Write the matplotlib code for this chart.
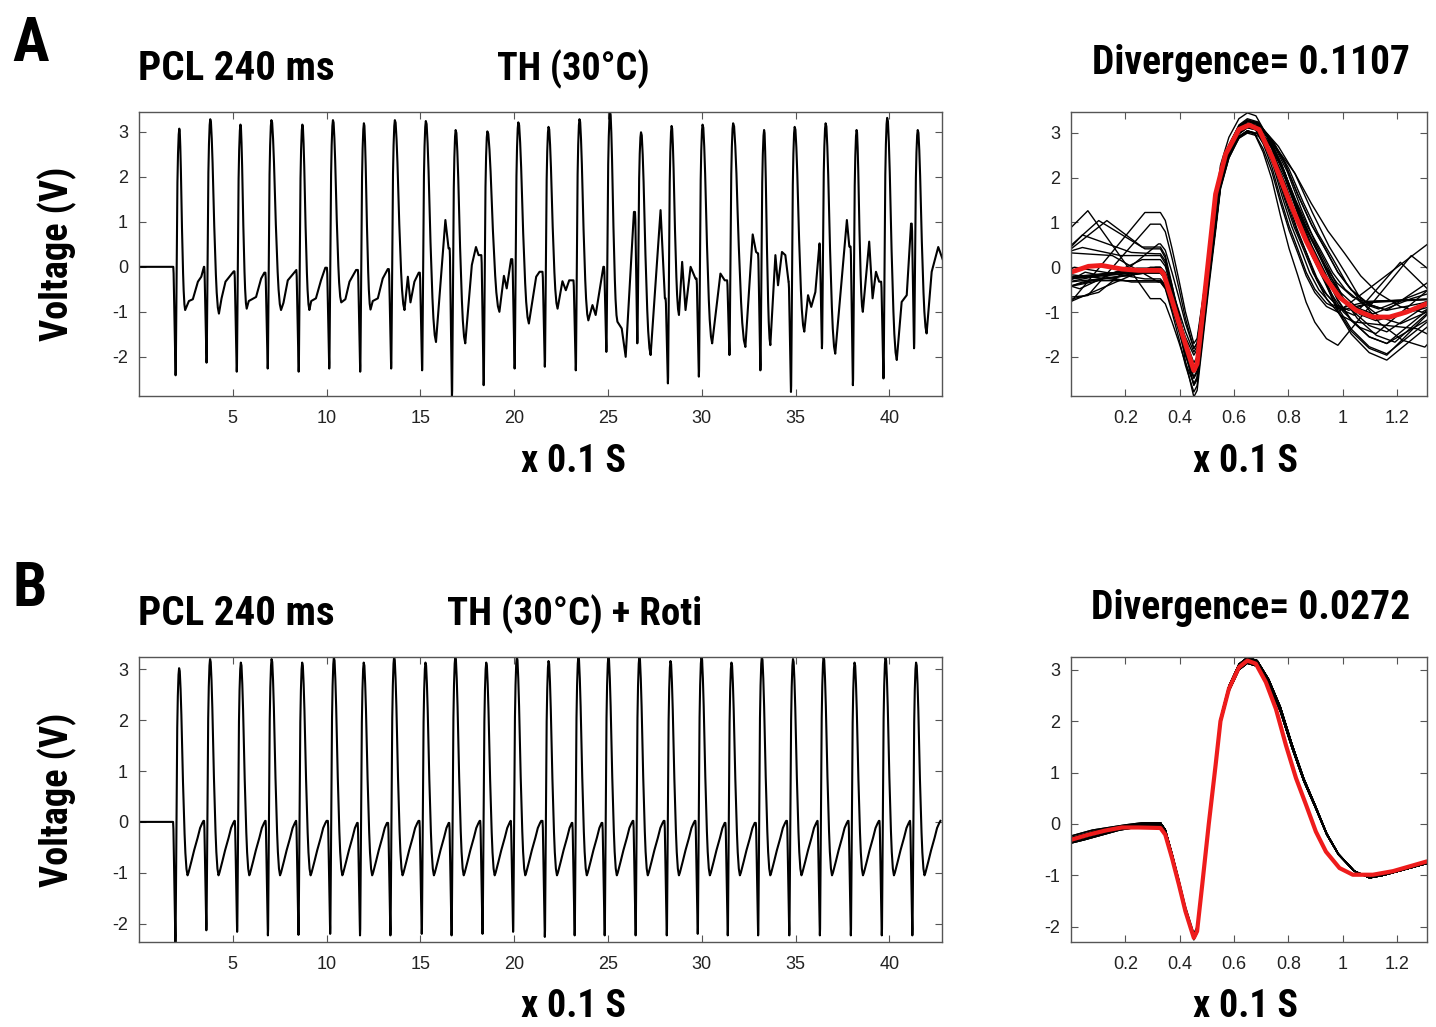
"""
Two-row figure: long epicardial voltage record (left) and the beat-by-beat
overlay with the mean trace in red (right), for TH and TH + Roti.
Writes out.png.
"""

import os

import matplotlib

matplotlib.use("Agg")
import matplotlib.pyplot as plt
import numpy as np
from matplotlib import font_manager
from matplotlib.font_manager import FontProperties

W, H = 1436, 1027

# ---------------- panel A: long record (x 0.1 s, volts) ----------------
SPIKE_T_A = [1.95, 3.60, 5.21, 6.86, 8.51, 10.14, 11.79, 13.44, 15.09, 16.68,
             18.37, 20.02, 21.63, 23.28, 24.91, 26.56, 28.19, 29.84, 31.47,
             33.12, 34.75, 36.40, 38.05, 39.68, 41.31]
SPIKE_V_A = [-2.41, -2.13, -2.33, -2.26, -2.33, -2.26, -2.33, -2.26, -2.30,
             -2.89, -2.63, -2.26, -2.22, -2.30, -1.89, -1.70, -2.59, -2.44,
             -1.96, -2.30, -2.78, -1.81, -2.63, -2.48, -1.81]
PEAK_V_A = [3.07, 3.28, 3.16, 3.26, 3.16, 3.26, 3.19, 3.26, 3.24, 3.04, 3.01,
            3.21, 3.11, 3.28, 3.44, 2.99, 3.13, 3.16, 3.19, 3.04, 3.11, 3.19,
            3.04, 3.31, 3.04]
# points after each peak (first one = trough), absolute time
RECOVERY_A = [
    [(2.46, -0.96), (2.66, -0.76), (2.87, -0.72), (3.14, -0.33), (3.32, -0.22), (3.46, 0.0)],
    [(4.26, -1.04), (4.40, -0.70), (4.61, -0.33), (4.82, -0.22), (5.05, -0.10)],
    [(5.74, -0.93), (5.85, -0.76), (6.24, -0.67), (6.51, -0.26), (6.68, -0.13)],
    [(7.57, -0.96), (7.70, -0.80), (7.93, -0.30), (8.23, -0.15), (8.38, -0.07)],
    [(9.08, -0.96), (9.18, -0.76), (9.43, -0.70), (9.70, -0.30), (9.93, -0.02)],
    [(10.78, -0.79), (11.00, -0.72), (11.22, -0.33), (11.57, -0.07)],
    [(12.34, -0.95), (12.46, -0.76), (12.73, -0.70), (12.99, -0.26), (13.26, -0.05)],
    [(14.15, -0.96), (14.33, -0.22), (14.47, -0.79), (14.68, -0.33), (14.91, -0.13)],
    [(15.83, -1.67), (16.33, 1.04), (16.50, 0.41)],
    [(17.39, -1.70), (17.74, 0.04), (17.96, 0.44), (18.10, 0.26)],
    [(19.21, -1.00), (19.45, -0.20), (19.60, -0.48), (19.83, 0.17)],
    [(20.78, -1.26), (21.17, -0.22), (21.35, -0.11), (21.51, 0.50)],
    [(22.31, -0.93), (22.57, -0.32), (22.75, -0.52), (22.93, -0.30), (23.14, -0.30)],
    [(23.95, -1.19), (24.17, -0.85), (24.34, -1.07), (24.75, 0.0)],
    [(25.50, -1.22), (25.73, -1.37), (25.94, -2.00), (26.38, 1.22)],
    [(27.27, -1.96), (27.80, 1.26), (28.03, -0.70)],
    [(28.78, -1.07), (28.95, 0.11), (29.13, -0.96), (29.40, 0.0), (29.66, -0.26)],
    [(30.55, -1.70), (30.99, -0.15), (31.22, -0.30), (31.35, 0.15)],
    [(32.32, -1.78), (32.71, 0.72), (32.89, 0.33), (32.98, 0.30)],
    [(33.65, -1.74), (33.92, 0.26), (34.06, -0.41), (34.27, 0.33), (34.45, 0.26), (34.62, -0.33)],
    [(35.46, -1.44), (35.66, -0.63), (35.83, -0.89), (36.05, -0.56), (36.27, 0.52)],
    [(37.11, -1.93), (37.73, 1.04), (37.86, 0.45)],
    [(38.58, -1.00), (38.92, 0.56), (39.10, -0.70), (39.28, -0.11), (39.45, -0.33)],
    [(40.39, -2.07), (40.65, -0.78), (40.92, -0.63), (41.15, 0.96)],
    [(41.98, -1.48), (42.25, -0.11), (42.60, 0.44), (42.85, 0.15)],
]

# ---------------- panel B: long record ----------------
SPIKE_T_B = [1.94, 3.59, 5.23, 6.87, 8.50, 10.19, 11.78, 13.40, 15.07, 16.66,
             18.31, 19.94, 21.63, 23.22, 24.82, 26.47, 28.13, 29.78, 31.38,
             33.00, 34.66, 36.29, 37.94, 39.59, 41.22]
SPIKE_V_B = [-2.36, -2.13, -2.16, -2.23, -2.22, -2.20, -2.23, -2.23, -2.20,
             -2.23, -2.20, -2.16, -2.26, -2.23, -2.23, -2.23, -2.23, -2.20,
             -2.23, -2.23, -2.23, -2.23, -2.23, -2.23, -2.23]
PEAK_V_B = [3.02, 3.20, 3.13, 3.20, 3.13, 3.23, 3.13, 3.24, 3.13, 3.24, 3.13,
            3.24, 3.16, 3.24, 3.24, 3.24, 3.16, 3.24, 3.13, 3.24, 3.20, 3.24,
            3.13, 3.23, 3.13]
# recovery after each peak (time after peak, volts) - same for every beat
REC_B_DT = [0.45, 0.50, 0.57, 0.66, 0.80, 0.99, 1.12, 1.24, 1.30]
REC_B_V = [-1.05, -1.00, -0.90, -0.77, -0.56, -0.31, -0.12, -0.02, 0.02]

# spike shape (time offset, fraction of the swing)
DROP_DT = [-0.123, -0.105, -0.080, -0.055, -0.031, -0.012, 0.0]
DROP_F = [0.0, 0.061, 0.276, 0.514, 0.757, 0.907, 1.0]
UP_DT = [0.0, 0.012, 0.031, 0.055, 0.080, 0.098, 0.129, 0.166, 0.197]
UP_F = [0.0, 0.024, 0.193, 0.411, 0.622, 0.781, 0.898, 0.976, 1.0]
DECAY_FT = [0.0, 0.08, 0.175, 0.27, 0.366, 0.461, 0.557, 0.649, 0.745, 0.874, 1.0]
DECAY_FV = [0.0, 0.014, 0.10, 0.225, 0.396, 0.549, 0.674, 0.799, 0.892, 0.969, 1.0]

# mean traces (red), window time in x 0.1 s
RED_A_T = [0.0, 0.064, 0.113, 0.187, 0.249, 0.329, 0.341, 0.372, 0.409, 0.44,
           0.452, 0.464, 0.495, 0.532, 0.569, 0.618, 0.655, 0.692, 0.741,
           0.803, 0.865, 0.926, 0.988, 1.049, 1.111, 1.172, 1.234, 1.31]
RED_A_V = [-0.11, 0.02, 0.04, -0.04, -0.07, -0.07, -0.15, -0.74, -1.48, -2.07,
           -2.30, -2.15, -0.44, 1.63, 2.52, 3.07, 3.17, 3.07, 2.44, 1.48,
           0.59, -0.15, -0.67, -0.96, -1.11, -1.11, -1.00, -0.81]
RED_B_T = [0.0, 0.064, 0.126, 0.187, 0.249, 0.329, 0.347, 0.372, 0.397, 0.421,
           0.44, 0.452, 0.464, 0.483, 0.507, 0.532, 0.55, 0.581, 0.618, 0.649,
           0.68, 0.717, 0.754, 0.791, 0.828, 0.865, 0.901, 0.938, 0.988,
           1.037, 1.111, 1.185, 1.31]
RED_B_V = [-0.31, -0.21, -0.13, -0.07, -0.07, -0.08, -0.21, -0.67, -1.18,
           -1.70, -2.02, -2.22, -2.09, -1.18, 0.0, 1.14, 2.0, 2.63, 3.05, 3.18,
           3.12, 2.76, 2.24, 1.53, 0.89, 0.37, -0.15, -0.54, -0.86, -0.99,
           -0.99, -0.92, -0.73]

DIVERGENCE = ["0.1107", "0.0272"]
CONDITIONS = ["TH (30°C)", "TH (30°C) + Roti"]
PANELS = ["A", "B"]

SPIKE_IN_WINDOW = 0.452  # where the spike sits in the overlay window
TICK_FONT = ["Liberation Sans", "DejaVu Sans"]


def pick_title_font():
    """Bold narrow sans if one is installed, else plain bold sans."""
    entries = font_manager.fontManager.ttflist

    def is_bold(f):
        w = f.weight
        return (isinstance(w, int) and w >= 600) or str(w).lower() in ("bold", "heavy", "black", "semibold", "demibold")

    for name in ["Liberation Sans Narrow", "Arial Narrow", "Roboto Condensed",
                 "Open Sans Condensed", "Noto Sans", "Open Sans", "DejaVu Sans"]:
        for f in entries:
            base = os.path.basename(f.fname).lower()
            narrow = "narrow" in base or "condensed" in base or "condensed" in str(f.stretch)
            if f.name.startswith(name) and narrow and is_bold(f) and "semi" not in base \
                    and "extra" not in base and "italic" not in base and "oblique" not in base:
                return FontProperties(fname=f.fname)
    return FontProperties(family="Liberation Sans", weight="bold")


TITLE_FP = pick_title_font()


def build_trace(spike_t, spike_v, peak_v, recovery):
    xs, ys = [0.0], [0.0]
    prev_v = 0.0
    n = len(spike_t)
    for k in range(n):
        t0 = spike_t[k]
        for dt, f in zip(DROP_DT, DROP_F):
            xs.append(t0 + dt)
            ys.append(prev_v + (spike_v[k] - prev_v) * f)
        for dt, f in zip(UP_DT[1:], UP_F[1:]):
            xs.append(t0 + dt)
            ys.append(spike_v[k] + (peak_v[k] - spike_v[k]) * f)
        tp = t0 + UP_DT[-1]
        limit = spike_t[k + 1] + DROP_DT[0] - 0.005 if k + 1 < n else 1e9
        rec = [(x, v) for x, v in recovery[k] if x < limit]
        tt, vt = rec[0]
        for ft, fv in zip(DECAY_FT[1:-1], DECAY_FV[1:-1]):
            xs.append(tp + (tt - tp) * ft)
            ys.append(peak_v[k] + (vt - peak_v[k]) * fv)
        for x, v in rec:
            xs.append(x)
            ys.append(v)
        prev_v = rec[-1][1]
    return np.array(xs), np.array(ys)


def style_axes(ax, xticks, yticks, xlim, ylim):
    ax.set_xlim(*xlim)
    ax.set_ylim(*ylim)
    ax.set_xticks(xticks)
    ax.set_yticks(yticks)
    ax.set_xticklabels([("%g" % v) for v in xticks], family=TICK_FONT)
    ax.set_yticklabels([("%g" % v) for v in yticks], family=TICK_FONT)
    ax.tick_params(direction="in", length=5, width=0.8, top=True, right=True,
                   labelsize=13, labelcolor="#222222", color="#555555")
    ax.tick_params(axis="x", pad=10)
    ax.tick_params(axis="y", pad=8)
    for s in ax.spines.values():
        s.set_color("#555555")
        s.set_linewidth(1.0)


def ax_rect(left, top, right, bottom):
    return [left / W, 1 - bottom / H, (right - left) / W, (bottom - top) / H]


def main():
    fig = plt.figure(figsize=(W / 100, H / 100), dpi=100)
    fig.patch.set_facecolor("white")
    texts = []

    def ftext(x, y, s, size, target_w=None, **kw):
        fp = TITLE_FP.copy()
        fp.set_size(size)
        if TITLE_FP.get_file() is None:
            fp.set_weight("bold")
        t = fig.text(x / W, 1 - y / H, s, fontproperties=fp, **kw)
        texts.append((t, target_w))
        return t

    rec_b = [[(t + UP_DT[-1] + dt, v) for dt, v in zip(REC_B_DT, REC_B_V)]
             for t in SPIKE_T_B]
    traces = [
        build_trace(SPIKE_T_A, SPIKE_V_A, PEAK_V_A, RECOVERY_A),
        build_trace(SPIKE_T_B, SPIKE_V_B, PEAK_V_B, rec_b),
    ]
    spikes = [SPIKE_T_A, SPIKE_T_B]
    reds = [(RED_A_T, RED_A_V), (RED_B_T, RED_B_V)]
    ylims_left = [(-2.87, 3.44), (-2.36, 3.24)]
    ylims_right = [(-2.87, 3.46), (-2.30, 3.25)]
    red_lw = [3.5, 3.0]
    row_top = [112, 657]
    row_bot = [396, 942]
    off = [0, 545]
    cond_w = [153, 255]
    cond_x = [497, 447]

    for r in range(2):
        ax = fig.add_axes(ax_rect(139, row_top[r], 942, row_bot[r]))
        xs, ys = traces[r]
        ax.plot(xs, ys, color="black", linewidth=1.5)
        style_axes(ax, [5, 10, 15, 20, 25, 30, 35, 40], [-2, -1, 0, 1, 2, 3],
                   (0, 42.8), ylims_left[r])

        ax2 = fig.add_axes(ax_rect(1071, row_top[r], 1427, row_bot[r]))
        # the first beat has no full cycle before it, left out of the overlay
        for t0 in spikes[r][1:]:
            lo = max(np.searchsorted(xs, t0 - SPIKE_IN_WINDOW) - 1, 0)
            hi = min(np.searchsorted(xs, t0 + 1.31 - SPIKE_IN_WINDOW) + 1, len(xs))
            ax2.plot(xs[lo:hi] - t0 + SPIKE_IN_WINDOW, ys[lo:hi],
                     color="black", linewidth=1.0)
        ax2.plot(reds[r][0], reds[r][1], color="#ee1c1c", linewidth=red_lw[r],
                 solid_capstyle="round", solid_joinstyle="round")
        style_axes(ax2, [0.2, 0.4, 0.6, 0.8, 1, 1.2], [-2, -1, 0, 1, 2, 3],
                   (0, 1.31), ylims_right[r])

        o = off[r]
        ftext(12, 61 + o, PANELS[r], 44, ha="left", va="baseline")
        ftext(138, 80 + o, "PCL 240 ms", 29.5, 192, ha="left", va="baseline")
        ftext(cond_x[r], 80 + o, CONDITIONS[r], 29.5, cond_w[r],
              ha="left", va="baseline")
        ftext(1251, 74 + o, "Divergence= " + DIVERGENCE[r], 29.5, 318,
              ha="center", va="baseline")
        ftext(573, 472 + o, "x 0.1 S", 29.5, 105, ha="center", va="baseline")
        ftext(1245, 472 + o, "x 0.1 S", 29.5, 105, ha="center", va="baseline")
        yl = ftext(57, (row_top[r] + row_bot[r]) / 2, "Voltage (V)", 29.5,
                   None, ha="center", va="center", rotation=90)
        texts[-1] = (yl, ("h", 175))

    # shrink any text that comes out wider than in the source figure
    renderer = fig.canvas.get_renderer()
    for t, target in texts:
        if target is None:
            continue
        bb = t.get_window_extent(renderer)
        if isinstance(target, tuple):
            actual, want = bb.height, target[1]
        else:
            actual, want = bb.width, target
        if actual > want * 1.03:
            t.set_fontsize(t.get_fontsize() * want / actual)

    fig.savefig("out.png", dpi=100)
    plt.close(fig)


if __name__ == "__main__":
    main()
